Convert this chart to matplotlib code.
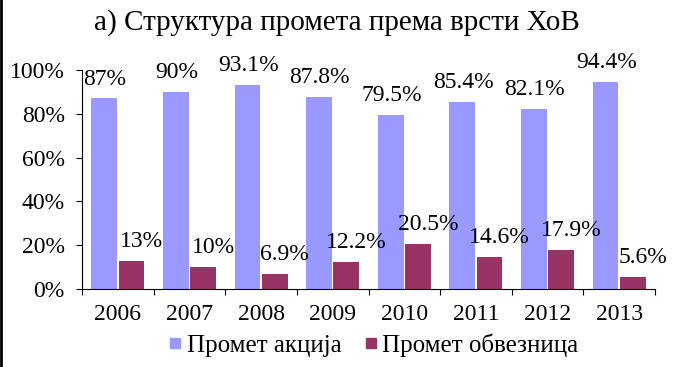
import matplotlib.pyplot as plt
import numpy as np
from matplotlib.lines import Line2D

years = ["2006", "2007", "2008", "2009", "2010", "2011", "2012", "2013"]
stocks = [87, 90, 93.1, 87.8, 79.5, 85.4, 82.1, 94.4]
bonds = [13, 10, 6.9, 12.2, 20.5, 14.6, 17.9, 5.6]
stock_labels = ["87%", "90%", "93.1%", "87.8%", "79.5%", "85.4%", "82.1%", "94.4%"]
bond_labels = ["13%", "10%", "6.9%", "12.2%", "20.5%", "14.6%", "17.9%", "5.6%"]

plt.rcParams['font.family'] = ['Liberation Serif', 'DejaVu Serif']

fig = plt.figure(figsize=(6.78, 3.67), dpi=100)
ax = fig.add_axes([82 / 678, 1 - 289 / 367, 573 / 678, 219 / 367])

x = np.arange(len(years))
w = 0.36
ax.bar(x - 0.19, [v / 100 for v in stocks], w, color="#9999FF")
ax.bar(x + 0.19, [v / 100 for v in bonds], w, color="#993366")

for i in range(len(years)):
    ax.annotate(stock_labels[i], (x[i] - 0.18, stocks[i] / 100), xytext=(0, 10),
                textcoords="offset points", ha="center", va="baseline", fontsize=17)
    ax.annotate(bond_labels[i], (x[i] + 0.33, bonds[i] / 100), xytext=(0, 10),
                textcoords="offset points", ha="center", va="baseline", fontsize=17)

ax.set_xlim(-0.5, len(years) - 0.5)
ax.set_ylim(0, 1)
ax.set_yticks([0, 0.2, 0.4, 0.6, 0.8, 1.0])
ax.set_yticklabels(["0%", "20%", "40%", "60%", "80%", "100%"], fontsize=17)
ax.set_xticks(np.arange(-0.5, len(years), 1))
ax.set_xticklabels([])
ax.set_xticks(x, minor=True)
ax.set_xticklabels(years, minor=True, fontsize=17)
ax.tick_params(axis="x", which="minor", length=0, pad=11)
ax.tick_params(axis="x", which="major", length=4.5, direction="out")
ax.tick_params(axis="y", length=4.5, direction="out", pad=8)
ax.spines["top"].set_visible(False)
ax.spines["right"].set_visible(False)

fig.text(337 / 678, 1 - 23 / 367, "а) Структура промета према врсти ХоВ",
         ha="center", va="center", fontsize=21)

handles = [Line2D([], [], marker="s", ls="", color="#9999FF", markersize=7.5),
           Line2D([], [], marker="s", ls="", color="#993366", markersize=7.5)]
fig.legend(handles, ["Промет акција", "Промет обвезница"], loc="center",
           bbox_to_anchor=(372 / 678, 1 - 345 / 367), ncol=2, frameon=False,
           fontsize=18, handletextpad=0.05, columnspacing=0.8, handlelength=0.8,
           borderpad=0)

fig.add_artist(Line2D([0.002, 0.002], [0, 1], color="black", lw=2,
                      transform=fig.transFigure))

fig.savefig("out.png", dpi=100)
